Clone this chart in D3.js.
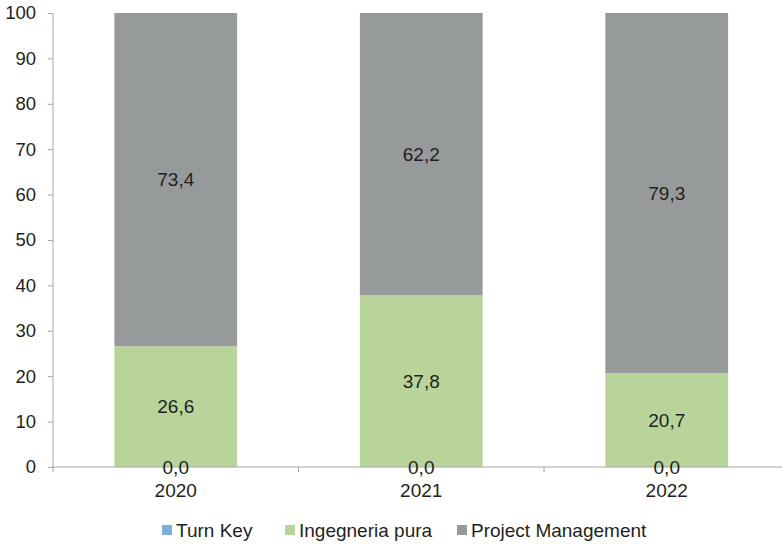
<!DOCTYPE html>
<html>
<head>
<meta charset="utf-8">
<script src="https://cdn.jsdelivr.net/npm/d3@7"></script>
<style>
  body { margin: 0; background: #fff; }
  text { font-family: "Liberation Sans", Arial, sans-serif; fill: #231f20; }
</style>
</head>
<body>
<svg id="chart" width="782" height="544"></svg>
<script>
const years = ["2020", "2021", "2022"];
const seriesNames = ["Turn Key", "Ingegneria pura", "Project Management"];
const turnKey = [0.0, 0.0, 0.0];
const ingegneriaPura = [26.6, 37.8, 20.7];
const projectManagement = [73.4, 62.2, 79.3];
const yTicks = [0, 10, 20, 30, 40, 50, 60, 70, 80, 90, 100];
const colors = ["#7eaedd", "#b8d49b", "#979a9b"];

var svg = d3.select("svg#chart");
var margin = { top: 13, left: 53 };
var width = 736.5;
var height = 454;
var g = svg.append("g").attr("transform", "translate(" + margin.left + "," + margin.top + ")");

var rows = years.map((y, i) => ({
    year: y,
    "Turn Key": turnKey[i],
    "Ingegneria pura": ingegneriaPura[i],
    "Project Management": projectManagement[i]
}));

var x = d3.scaleBand().domain(years).range([0, width]).paddingInner(0.5).paddingOuter(0.25);
var y = d3.scaleLinear().domain([0, 100]).range([height, 0]);
var stack = d3.stack().keys(seriesNames)(rows);
var fmt = (v) => v.toFixed(1).replace(".", ",");

// bars
stack.forEach((layer, k) => {
    g.selectAll(".bar" + k)
        .data(layer)
        .enter().append("rect")
        .attr("x", (d) => x(d.data.year))
        .attr("width", x.bandwidth())
        .attr("y", (d) => y(d[1]))
        .attr("height", (d) => y(d[0]) - y(d[1]))
        .attr("fill", colors[k]);
});

// Y axis
var yAxis = g.append("g")
    .call(d3.axisLeft(y).tickValues(yTicks).tickSize(5).tickPadding(12));
yAxis.selectAll("line, path").attr("stroke", "#a6a6a6");
yAxis.select(".domain").attr("d", "M0," + height + "V0");
yAxis.selectAll("text").attr("font-size", 18.5).attr("font-family", "Liberation Sans, Arial, sans-serif").attr("fill", "#231f20");

// X axis
var step = x.step();
var xAxis = g.append("g").attr("transform", "translate(0," + height + ")");
xAxis.append("line").attr("x1", 0).attr("x2", width).attr("stroke", "#a6a6a6");
[0, 1, 2, 3].forEach((i) => {
    xAxis.append("line")
        .attr("x1", x(years[0]) - x.bandwidth() / 2 + i * step)
        .attr("x2", x(years[0]) - x.bandwidth() / 2 + i * step)
        .attr("y1", 0).attr("y2", 5).attr("stroke", "#a6a6a6");
});
xAxis.selectAll(".xl")
    .data(years)
    .enter().append("text")
    .attr("x", (d) => x(d) + x.bandwidth() / 2)
    .attr("y", 30)
    .attr("text-anchor", "middle")
    .attr("font-size", 19)
    .text((d) => d);

// data labels
stack.forEach((layer) => {
    g.selectAll(null)
        .data(layer)
        .enter().append("text")
        .attr("x", (d) => x(d.data.year) + x.bandwidth() / 2)
        .attr("y", (d) => y((d[0] + d[1]) / 2))
        .attr("dy", "0.36em")
        .attr("text-anchor", "middle")
        .attr("font-size", 19)
        .text((d) => fmt(d[1] - d[0]));
});

// legend
var legendX = [162, 285, 457];
var legend = svg.append("g").attr("transform", "translate(0,537)");
seriesNames.forEach((name, i) => {
    legend.append("rect")
        .attr("x", legendX[i]).attr("y", -12)
        .attr("width", 10).attr("height", 10)
        .attr("fill", colors[i]);
    legend.append("text")
        .attr("x", legendX[i] + 14)
        .attr("y", 0)
        .attr("font-size", 19)
        .text(name);
});
</script>
</body>
</html>
